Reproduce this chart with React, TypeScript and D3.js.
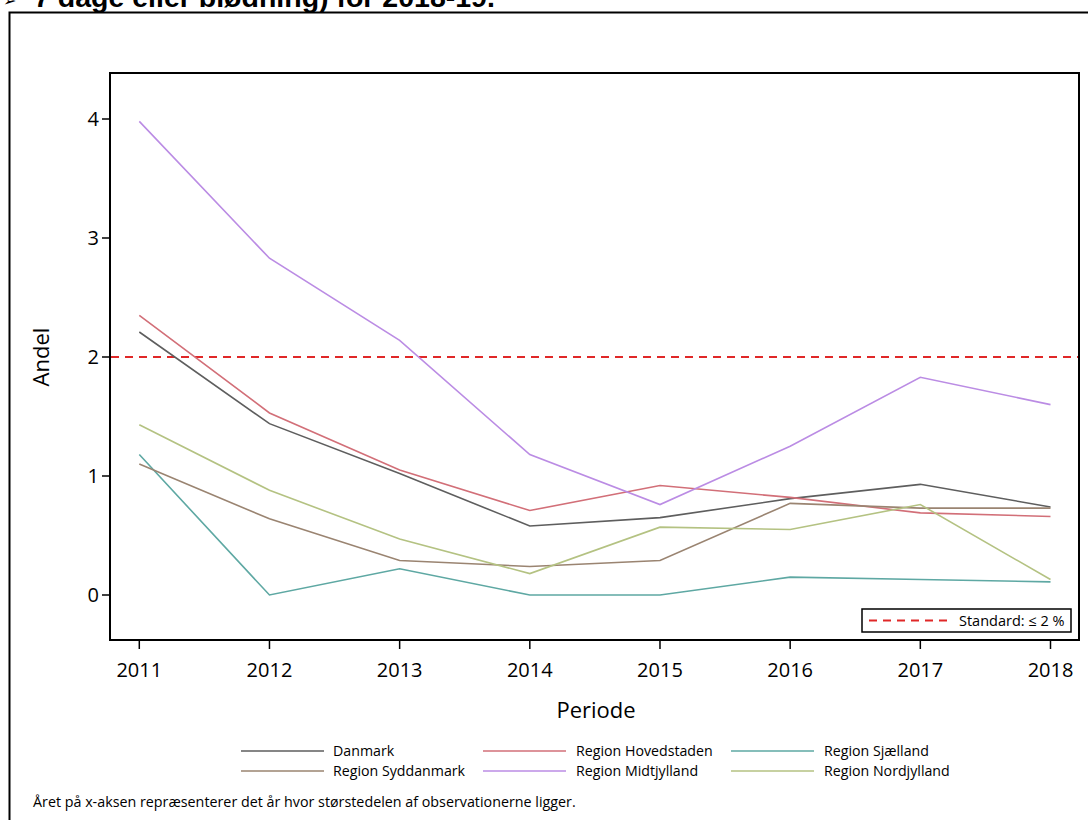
import React from "react";
import * as d3 from "d3";

const years = [2011, 2012, 2013, 2014, 2015, 2016, 2017, 2018];
const yTicks = [0, 1, 2, 3, 4];

const danmark = [2.21, 1.44, 1.02, 0.58, 0.65, 0.81, 0.93, 0.74];
const hovedstaden = [2.35, 1.53, 1.05, 0.71, 0.92, 0.82, 0.69, 0.66];
const sjaelland = [1.18, 0.0, 0.22, 0.0, 0.0, 0.15, 0.13, 0.11];
const syddanmark = [1.1, 0.64, 0.29, 0.24, 0.29, 0.77, 0.73, 0.73];
const midtjylland = [3.98, 2.83, 2.14, 1.18, 0.76, 1.25, 1.83, 1.6];
const nordjylland = [1.43, 0.88, 0.47, 0.18, 0.57, 0.55, 0.76, 0.13];

const seriesNames = [
  "Danmark",
  "Region Hovedstaden",
  "Region Sjælland",
  "Region Syddanmark",
  "Region Midtjylland",
  "Region Nordjylland",
];
const seriesValues = [danmark, hovedstaden, sjaelland, syddanmark, midtjylland, nordjylland];
const seriesColors = ["#5e5e5e", "#d26f78", "#5ea8a3", "#9a8471", "#bb8ce4", "#b4c282"];

const standardValue = 2;
const standardLabel = "Standard: ≤ 2 %";

const W = 1088;
const H = 820;
const plot = { left: 110, top: 73, right: 1079, bottom: 640 };

export default function App() {
  const x = d3.scaleLinear().domain([2011, 2018]).range([139.3, 1050.5]);
  const y = d3.scaleLinear().domain([0, 4]).range([595, 119]);
  const line = d3
    .line<number>()
    .x((_, i) => x(years[i]))
    .y((v) => y(v));

  const axisFont = "'Open Sans', 'DejaVu Sans', sans-serif";
  const legendCols = [
    { lx: 241, tx: 333 },
    { lx: 483, tx: 576 },
    { lx: 731, tx: 824 },
  ];
  const legendRows = [751, 771];

  return (
    <svg
      width={W}
      height={H}
      style={{ position: "absolute", left: 0, top: 0, background: "#fff" }}
      xmlns="http://www.w3.org/2000/svg"
    >
      <rect x={0} y={0} width={W} height={H} fill="#fff" />
      {/* clipped title */}
      <text x={3} y={6} fontFamily="'DejaVu Sans', sans-serif" fontSize={16} fill="#000">
        ➢
      </text>
      <text
        x={34}
        y={7}
        fontFamily="'Liberation Sans', Arial, sans-serif"
        fontWeight="bold"
        fontSize={28.5}
        fill="#000"
      >
        7 dage eller blødning) for 2018-19.
      </text>
      {/* outer frame */}
      <rect x={9.5} y={12.5} width={W + 10} height={H + 10} fill="none" stroke="#000" strokeWidth={2} />

      {/* plot frame */}
      <rect
        x={plot.left}
        y={plot.top}
        width={plot.right - plot.left}
        height={plot.bottom - plot.top}
        fill="none"
        stroke="#000"
        strokeWidth={2}
      />

      {/* y ticks */}
      {yTicks.map((t) => (
        <g key={t}>
          <line x1={plot.left - 8} x2={plot.left} y1={y(t)} y2={y(t)} stroke="#000" strokeWidth={1.5} />
          <text
            x={plot.left - 11}
            y={y(t)}
            dy="0.36em"
            textAnchor="end"
            fontFamily={axisFont}
            fontSize={20}
            fill="#000"
          >
            {t}
          </text>
        </g>
      ))}
      {/* x ticks */}
      {years.map((yr) => (
        <g key={yr}>
          <line x1={x(yr)} x2={x(yr)} y1={plot.bottom} y2={plot.bottom + 9} stroke="#000" strokeWidth={1.5} />
          <text x={x(yr)} y={677} textAnchor="middle" fontFamily={axisFont} fontSize={20} fill="#000">
            {yr}
          </text>
        </g>
      ))}

      {/* axis labels */}
      <text x={596} y={718} textAnchor="middle" fontFamily={axisFont} fontSize={22} fill="#000">
        Periode
      </text>
      <text
        transform={`translate(49,${y(2)}) rotate(-90)`}
        textAnchor="middle"
        fontFamily={axisFont}
        fontSize={22}
        fill="#000"
      >
        Andel
      </text>

      {/* reference line */}
      <line
        x1={plot.left + 1}
        x2={plot.right - 1}
        y1={y(standardValue)}
        y2={y(standardValue)}
        stroke="#e02828"
        strokeWidth={2}
        strokeDasharray="8,6"
      />

      {/* series */}
      {seriesValues.map((vals, i) => (
        <path key={i} d={line(vals) || ""} fill="none" stroke={seriesColors[i]} strokeWidth={1.6} />
      ))}

      {/* inner legend */}
      <rect x={862} y={609} width={209} height={23} fill="#fff" stroke="#000" strokeWidth={1.5} />
      <line x1={869} x2={948} y1={620.5} y2={620.5} stroke="#e02828" strokeWidth={2} strokeDasharray="8,6" />
      <text x={959} y={625.5} fontFamily={axisFont} fontSize={14.5} fill="#000">
        {standardLabel}
      </text>

      {/* bottom legend */}
      {seriesNames.map((name, i) => {
        const col = legendCols[i % 3];
        const row = legendRows[Math.floor(i / 3)];
        return (
          <g key={name}>
            <line x1={col.lx} x2={col.lx + 83} y1={row} y2={row} stroke={seriesColors[i]} strokeWidth={1.6} />
            <text x={col.tx} y={row} dy="0.36em" fontFamily={axisFont} fontSize={14.2} fill="#000">
              {name}
            </text>
          </g>
        );
      })}

      {/* footnote */}
      <text x={33} y={807} fontFamily={axisFont} fontSize={14.3} fill="#000">
        Året på x-aksen repræsenterer det år hvor størstedelen af observationerne ligger.
      </text>
    </svg>
  );
}
